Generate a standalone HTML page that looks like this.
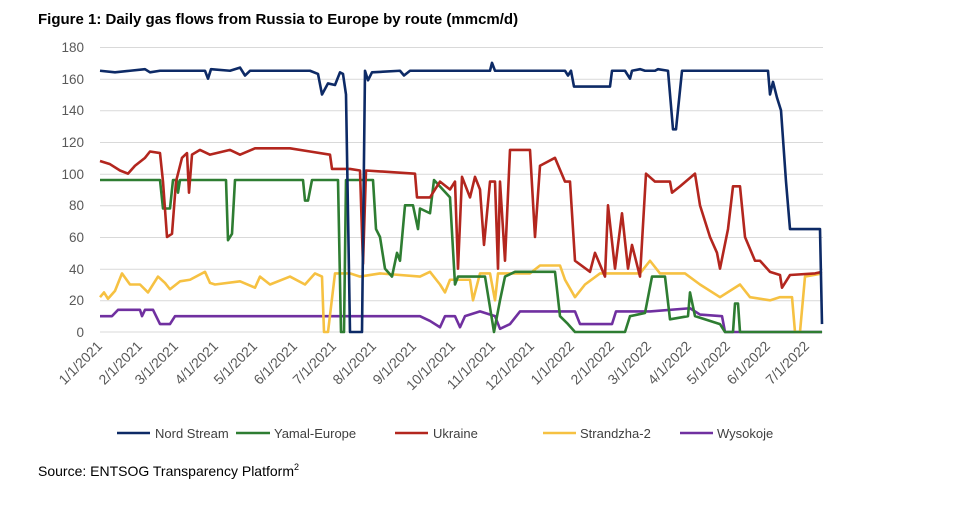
<!DOCTYPE html>
<html><head><meta charset="utf-8"><style>
body{margin:0;background:#fff;width:956px;height:511px;overflow:hidden;font-family:"Liberation Sans",sans-serif}
</style></head><body>
<svg width="956" height="511" xmlns="http://www.w3.org/2000/svg" font-family="Liberation Sans, sans-serif">
<text x="38" y="24" font-size="15" font-weight="bold" fill="#000">Figure 1: Daily gas flows from Russia to Europe by route (mmcm/d)</text>
<g stroke="#d9d9d9" stroke-width="1">
<line x1="100" x2="823" y1="47.5" y2="47.5"/><line x1="100" x2="823" y1="79.2" y2="79.2"/><line x1="100" x2="823" y1="110.8" y2="110.8"/><line x1="100" x2="823" y1="142.5" y2="142.5"/><line x1="100" x2="823" y1="174.2" y2="174.2"/><line x1="100" x2="823" y1="205.8" y2="205.8"/><line x1="100" x2="823" y1="237.5" y2="237.5"/><line x1="100" x2="823" y1="269.2" y2="269.2"/><line x1="100" x2="823" y1="300.8" y2="300.8"/><line x1="100" x2="823" y1="332" y2="332"/>
</g>
<g font-size="13.5" fill="#595959" text-anchor="end">
<text x="84" y="52">180</text><text x="84" y="84">160</text><text x="84" y="115">140</text><text x="84" y="147">120</text><text x="84" y="179">100</text><text x="84" y="210">80</text><text x="84" y="242">60</text><text x="84" y="274">40</text><text x="84" y="305">20</text><text x="84" y="337">0</text>
</g>
<g font-size="14" fill="#595959" text-anchor="end">
<text transform="translate(103,347) rotate(-45)">1/1/2021</text>
<text transform="translate(143,347) rotate(-45)">2/1/2021</text>
<text transform="translate(179,347) rotate(-45)">3/1/2021</text>
<text transform="translate(219,347) rotate(-45)">4/1/2021</text>
<text transform="translate(258,347) rotate(-45)">5/1/2021</text>
<text transform="translate(298,347) rotate(-45)">6/1/2021</text>
<text transform="translate(337,347) rotate(-45)">7/1/2021</text>
<text transform="translate(377,347) rotate(-45)">8/1/2021</text>
<text transform="translate(417,347) rotate(-45)">9/1/2021</text>
<text transform="translate(456,347) rotate(-45)">10/1/2021</text>
<text transform="translate(496,347) rotate(-45)">11/1/2021</text>
<text transform="translate(535,347) rotate(-45)">12/1/2021</text>
<text transform="translate(575,347) rotate(-45)">1/1/2022</text>
<text transform="translate(615,347) rotate(-45)">2/1/2022</text>
<text transform="translate(652,347) rotate(-45)">3/1/2022</text>
<text transform="translate(692,347) rotate(-45)">4/1/2022</text>
<text transform="translate(731,347) rotate(-45)">5/1/2022</text>
<text transform="translate(771,347) rotate(-45)">6/1/2022</text>
<text transform="translate(810,347) rotate(-45)">7/1/2022</text>
</g>
<g transform="translate(0,332) scale(1,-1.5833)" fill="none" stroke-width="2.6" stroke-linejoin="round">
<polyline vector-effect="non-scaling-stroke" stroke="#7030a0" points="100,10 112,10 118,14 140,14 142,10 145,14 153,14 160,5 170,5 175,10 420,10 430,7 440,3 445,10 455,10 460,3 465,10 480,13 495,10 500,2 510,5 520,13 575,13 580,5 612,5 616,13 650,13 690,15 700,11 722,10 725,0 822,0"/>
<polyline vector-effect="non-scaling-stroke" stroke="#f6c142" points="100,22 104,25 108,21 115,26 122,37 130,30 140,30 148,25 158,35 165,31 170,27 180,32 190,33 205,38 210,31 215,30 240,32 255,28 260,35 270,30 290,35 305,30 315,37 322,35 324,0 328,0 335,37 350,37 360,35 380,37 420,35 430,38 440,30 445,25 450,33 470,33 473,20 480,37 490,37 495,20 498,37 530,37 540,42 560,42 565,33 575,22 585,30 600,37 640,37 650,45 660,37 685,37 700,30 720,22 740,30 750,22 770,20 780,22 792,22 795,0 800,0 805,35 822,37"/>
<polyline vector-effect="non-scaling-stroke" stroke="#2e7d32" points="100,96 160,96 163,78 170,78 173,96 177,96 178,88 180,96 226,96 228,58 232,62 235,96 303,96 305,83 308,83 312,96 338,96 341,0 344,0 346,96 373,96 376,65 380,60 385,40 392,35 397,50 400,45 405,80 413,80 418,65 420,78 430,75 434,96 450,85 455,30 458,35 485,35 494,0 500,20 505,35 515,38 555,38 560,10 568,5 575,0 625,0 630,10 645,12 652,35 665,35 670,8 688,10 690,25 695,10 720,5 725,0 733,0 735,18 738,18 740,0 822,0"/>
<polyline vector-effect="non-scaling-stroke" stroke="#b3261e" points="100,108 110,106 120,102 128,100 135,105 145,110 150,114 160,113 163,95 167,60 172,62 176,95 182,110 187,113 189,88 192,112 200,115 210,112 230,115 240,112 255,116 290,116 310,114 330,112 332,103 350,103 360,102 363,43 366,102 415,100 417,85 430,85 440,95 450,90 455,95 458,40 462,98 470,85 475,98 480,90 484,55 490,95 495,95 498,40 500,95 505,45 510,115 530,115 535,60 540,105 555,110 565,95 570,95 575,45 590,38 595,50 605,35 608,80 615,40 622,75 628,40 632,55 640,35 646,100 655,95 670,95 672,88 680,92 695,100 700,80 710,60 717,50 720,40 728,65 733,92 740,92 745,60 755,45 760,45 770,38 780,36 782,28 790,36 815,37 822,38"/>
<polyline vector-effect="non-scaling-stroke" stroke="#0d2a66" points="100,165 115,164 130,165 145,166 150,164 160,165 205,165 208,160 211,166 230,165 240,167 245,162 250,165 310,165 318,163 322,150 328,157 335,156 340,164 343,163 346,150 350,0 362,0 365,165 368,159 372,164 400,165 404,162 410,165 490,165 492,170 495,165 565,165 568,162 571,165 574,155 610,155 612,165 625,165 630,160 632,165 640,166 645,165 655,165 658,166 668,165 673,128 676,128 682,165 768,165 770,150 773,158 777,148 781,140 786,95 790,65 815,65 820,65 822,5"/>
</g>
<g font-size="13" fill="#404040">
<line x1="117" x2="150" y1="433" y2="433" stroke="#0d2a66" stroke-width="2.6"/><text x="155" y="438">Nord Stream</text>
<line x1="236" x2="270" y1="433" y2="433" stroke="#2e7d32" stroke-width="2.6"/><text x="274" y="438">Yamal-Europe</text>
<line x1="395" x2="428" y1="433" y2="433" stroke="#b3261e" stroke-width="2.6"/><text x="433" y="438">Ukraine</text>
<line x1="543" x2="576" y1="433" y2="433" stroke="#f6c142" stroke-width="2.6"/><text x="580" y="438">Strandzha-2</text>
<line x1="680" x2="713" y1="433" y2="433" stroke="#7030a0" stroke-width="2.6"/><text x="717" y="438">Wysokoje</text>
</g>
<text x="38" y="476" font-size="14" fill="#000">Source: ENTSOG Transparency Platform<tspan font-size="9" dy="-6">2</tspan></text>
</svg>
</body></html>
